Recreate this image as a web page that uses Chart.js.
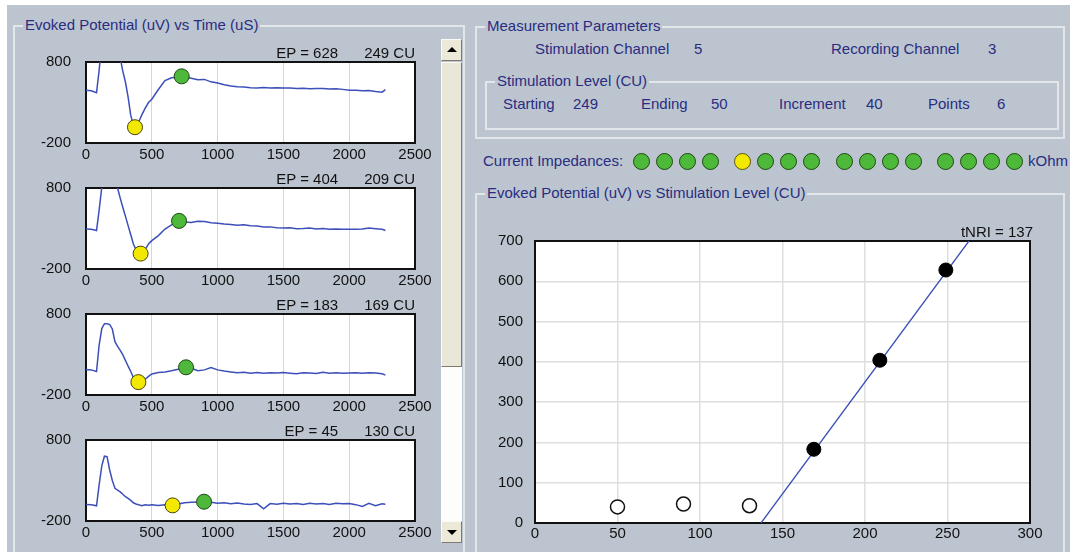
<!DOCTYPE html>
<html lang="en">
<head>
<meta charset="UTF-8" />
<title>Evoked Potential</title>
<script src="https://cdn.jsdelivr.net/npm/chart.js"></script>
<style>
  body {
    margin: 0;
    width: 1070px;
    height: 552px;
    overflow: hidden;
    background: #fff;
    position: relative;
    font-family: 'Liberation Sans', Arial, sans-serif;
    font-size: 15px;
    color: #2a2c82;
  }
  #panel { position: absolute; left: 7px; top: 5px; width: 1063px; height: 547px; background: #bcc5cf; }
  .group { position: absolute; border: 2px solid #e3e6e9; }
  .group > .cap {
    position: absolute; top: -11px; left: 8px; padding: 0 2px;
    background: #bcc5cf; line-height: 18px; white-space: nowrap;
  }
  .txt { position: absolute; line-height: 18px; white-space: nowrap; }
  .ep { position: absolute; line-height: 18px; white-space: nowrap; color: #111; }
  .dot { position: absolute; width: 15px; height: 15px; border-radius: 50%; border: 1px solid #1d4a12; background: #4db83a; }
  .dot.y { background: #f2e800; border-color: #5a5410; }
  .sb { position: absolute; left: 441px; width: 19px; background: #ece9d8;
        border: 1px solid; border-color: #fbfbf6 #7d7b70 #7d7b70 #fbfbf6; }
  .arrow { position: absolute; left: 5px; width: 0; height: 0;
           border-left: 5px solid transparent; border-right: 5px solid transparent; }
  canvas { position: absolute; }
</style>
</head>
<body>
<div id="panel"></div>

<div class="group" style="left:13px; top:25px; width:448px; height:560px;">
  <span class="cap">Evoked Potential (uV) vs Time (uS)</span>
</div>

<div class="group" style="left:475px; top:26px; width:586px; height:109px;">
  <span class="cap">Measurement Parameters</span>
</div>
<div class="group" style="left:485px; top:81px; width:570px; height:45px;">
  <span class="cap">Stimulation Level (CU)</span>
</div>
<div class="txt" style="left:535px; top:40px;">Stimulation Channel</div>
<div class="txt" style="left:694px; top:40px;">5</div>
<div class="txt" style="left:831px; top:40px;">Recording Channel</div>
<div class="txt" style="left:988px; top:40px;">3</div>
<div class="txt" style="left:503px; top:95px;">Starting</div>
<div class="txt" style="left:573px; top:95px;">249</div>
<div class="txt" style="left:641px; top:95px;">Ending</div>
<div class="txt" style="left:711px; top:95px;">50</div>
<div class="txt" style="left:779px; top:95px;">Increment</div>
<div class="txt" style="left:866px; top:95px;">40</div>
<div class="txt" style="left:928px; top:95px;">Points</div>
<div class="txt" style="left:997px; top:95px;">6</div>

<div class="txt" style="left:483px; top:152px;">Current Impedances:</div>
<div id="dots"></div>
<div class="txt" style="left:1028px; top:152px;">kOhm</div>

<div class="group" style="left:475px; top:193px; width:586px; height:400px;">
  <span class="cap">Evoked Potential (uV) vs Stimulation Level (CU)</span>
</div>

<!-- scrollbar -->
<div class="sb" style="top:39px; height:20px;"><div class="arrow" style="top:7px; border-bottom:5px solid #000;"></div></div>
<div class="sb" style="top:62px; height:303px; background:#e9e7d8;"></div>
<div style="position:absolute; left:441px; top:367px; width:21px; height:154px; background:#fdfdfb;"></div>
<div class="sb" style="top:521px; height:20px;"><div class="arrow" style="top:8px; border-top:5px solid #000;"></div></div>

<canvas id="trace0" width="420" height="115" style="left:20px; top:52px;"></canvas>
<canvas id="trace1" width="420" height="115" style="left:20px; top:178px;"></canvas>
<canvas id="trace2" width="420" height="115" style="left:20px; top:304px;"></canvas>
<canvas id="trace3" width="420" height="115" style="left:20px; top:430px;"></canvas>
<div id="epText"></div>

<canvas id="growth" width="580" height="325" style="left:480px; top:225px;"></canvas>
<div class="ep" style="left:900px; top:223px; width:133px; text-align:right;">tNRI = 137</div>

<script>
// time axis (uS) shared by the four traces
const timeUs = [0, 40, 80, 100, 120, 140, 160, 180, 200, 220, 240, 260, 280, 300, 320, 340, 360, 380, 400,
  425, 450, 475, 500, 550, 600, 650, 700, 750, 800, 850, 900, 950, 1000, 1050, 1100, 1150, 1200, 1250,
  1300, 1350, 1400, 1450, 1500, 1550, 1600, 1650, 1700, 1750, 1800, 1850, 1900, 1950, 2000, 2050, 2100,
  2150, 2200, 2250, 2275];

// evoked potential traces (uV)
const ep249 = [450, 445, 420, 700, 1050, 1300, 1450, 1500, 1450, 1300, 1100, 850, 685, 550, 365, 140, 25, -5, 60,
  150, 230, 300, 340, 460, 570, 605, 612, 618, 600, 580, 585, 555, 540, 520, 505, 495, 490, 483,
  480, 485, 478, 482, 480, 478, 472, 476, 470, 474, 472, 466, 470, 462, 452, 450, 445,
  448, 436, 428, 458];
const ep209 = [294, 290, 275, 530, 810, 1100, 1300, 1350, 1250, 1050, 800, 675, 560, 450, 335, 222, 109, 40, 0,
  -10, 40, 110, 150, 212, 293, 345, 390, 380, 375, 390, 385, 370, 365, 355, 350, 340, 345, 335,
  330, 318, 320, 308, 305, 310, 298, 300, 305, 295, 300, 292, 294, 290, 290, 292, 295,
  306, 298, 290, 275];
const ep169 = [116, 110, 90, 420, 620, 680, 680, 670, 615, 458, 400, 350, 295, 226, 156, 90, 19, -30, -42,
  -30, -5, 30, 60, 78, 85, 100, 118, 140, 130, 100, 110, 140, 110, 95, 85, 75, 80, 70,
  78, 68, 75, 72, 78, 70, 62, 75, 72, 66, 80, 68, 74, 70, 72, 75, 70,
  76, 72, 62, 46];
const ep130 = [4, 0, -12, 250, 480, 600, 595, 430, 300, 204, 180, 160, 130, 100, 80, 55, 25, 10, 0,
  -10, 0, -5, 2, -8, 0, -12, 10, 25, 30, 35, 38, 30, 20, 25, 12, 22, 10, 5,
  15, -50, 15, 8, 20, 10, 15, 5, 18, 10, 15, 5, 18, 12, 15, 2, -20,
  18, -10, 12, 8];

// trough (yellow) and peak (green) markers
const troughTimes = [372, 415, 398, 658];
const troughValues = [-5, -10, -41, -7];
const peakTimes = [727, 707, 760, 897];
const peakValues = [623, 394, 142, 38];

const epLabels = ['EP = 628', 'EP = 404', 'EP = 183', 'EP = 45'];
const cuLabels = ['249 CU', '209 CU', '169 CU', '130 CU'];
const timeTicks = [0, 500, 1000, 1500, 2000, 2500];
const voltTicks = [-200, 800];

// growth function
const stimOpen = [50, 90, 130];
const epOpen = [40, 47, 43];
const stimUsed = [169, 209, 249];
const epUsed = [183, 404, 628];
const fitStim = [137, 263];
const fitEp = [0, 700];

Chart.defaults.font.family = "'Liberation Sans', Arial, sans-serif";
Chart.defaults.font.size = 15;
Chart.defaults.color = '#111';

const plain = v => String(v);
const noTick = 'rgba(0,0,0,0)';

const plotFrame = {
  id: 'plotFrame',
  beforeDraw(chart) {
    const a = chart.chartArea, c = chart.ctx;
    c.save();
    c.fillStyle = '#fff';
    c.fillRect(a.left, a.top, a.width, a.height);
    c.restore();
  },
  beforeDatasetsDraw(chart) {
    const a = chart.chartArea, c = chart.ctx;
    c.save();
    c.strokeStyle = '#111';
    c.lineWidth = 2;
    c.strokeRect(a.left, a.top, a.width, a.height);
    c.restore();
  }
};

const traces = [ep249, ep209, ep169, ep130];
const plotTops = [62, 188, 314, 440];

traces.forEach((vals, i) => {
  new Chart(document.getElementById('trace' + i), {
    type: 'line',
    data: {
      datasets: [
        {
          data: [{ x: troughTimes[i], y: troughValues[i] }],
          showLine: false, pointRadius: 7.5,
          pointBackgroundColor: '#f2e800', pointBorderColor: '#4a4510', pointBorderWidth: 1
        },
        {
          data: [{ x: peakTimes[i], y: peakValues[i] }],
          showLine: false, pointRadius: 7.5,
          pointBackgroundColor: '#4db83a', pointBorderColor: '#1d4a12', pointBorderWidth: 1
        },
        {
          data: vals.map((v, k) => ({ x: timeUs[k], y: v })),
          borderColor: '#3d4fb8', borderWidth: 1.5, pointRadius: 0, tension: 0
        }
      ]
    },
    options: {
      responsive: false,
      animation: false,
      layout: { padding: { top: 10, right: 25, left: 0, bottom: 0 } },
      plugins: { legend: { display: false }, tooltip: { enabled: false } },
      scales: {
        x: {
          type: 'linear', min: 0, max: 2500,
          afterBuildTicks: s => { s.ticks = timeTicks.map(v => ({ value: v })); },
          afterFit: s => { s.height = 24; },
          ticks: { padding: 3, maxRotation: 0, autoSkip: false, callback: plain },
          grid: { color: '#d6d6d6', drawTicks: false },
          border: { color: '#111', width: 2 }
        },
        y: {
          min: -200, max: 800,
          afterBuildTicks: s => { s.ticks = voltTicks.map(v => ({ value: v })); },
          afterFit: s => { s.width = 66; },
          ticks: { padding: 1, callback: plain },
          grid: { drawOnChartArea: false, drawTicks: true, tickLength: 14, tickColor: noTick },
          border: { color: '#111', width: 2 }
        }
      }
    },
    plugins: [plotFrame]
  });

  const lab = document.createElement('div');
  lab.className = 'ep';
  lab.style.left = '200px';
  lab.style.width = '215px';
  lab.style.top = (plotTops[i] - 18) + 'px';
  lab.style.textAlign = 'right';
  lab.innerHTML = epLabels[i] + '<span style="display:inline-block; width:26px"></span>' + cuLabels[i];
  document.getElementById('epText').appendChild(lab);
});

// impedance indicators
const dotGroups = [641, 742, 844, 945];
dotGroups.forEach((gx, g) => {
  for (let k = 0; k < 4; k++) {
    const d = document.createElement('div');
    d.className = 'dot' + (g === 1 && k === 0 ? ' y' : '');
    d.style.left = (gx + k * 23 - 8) + 'px';
    d.style.top = '153px';
    document.getElementById('dots').appendChild(d);
  }
});

new Chart(document.getElementById('growth'), {
  type: 'line',
  data: {
    datasets: [
      {
        data: stimUsed.map((s, k) => ({ x: s, y: epUsed[k] })),
        showLine: false, pointRadius: 7,
        pointBackgroundColor: '#000', pointBorderColor: '#000'
      },
      {
        data: stimOpen.map((s, k) => ({ x: s, y: epOpen[k] })),
        showLine: false, pointRadius: 7,
        pointBackgroundColor: '#fff', pointBorderColor: '#111', pointBorderWidth: 1.5
      },
      {
        data: fitStim.map((s, k) => ({ x: s, y: fitEp[k] })),
        borderColor: '#3d4fb8', borderWidth: 1.3, pointRadius: 0
      }
    ]
  },
  options: {
    responsive: false,
    animation: false,
    layout: { padding: { top: 16, right: 30, left: 0, bottom: 0 } },
    plugins: { legend: { display: false }, tooltip: { enabled: false } },
    scales: {
      x: {
        type: 'linear', min: 0, max: 300,
        ticks: { stepSize: 50, padding: 2, maxRotation: 0, autoSkip: false, callback: plain },
        afterFit: s => { s.height = 27; },
        grid: { color: '#dedede', lineWidth: 1.5, drawTicks: false },
        border: { color: '#111', width: 2 }
      },
      y: {
        min: 0, max: 700,
        ticks: { stepSize: 100, padding: 1, callback: plain },
        afterFit: s => { s.width = 55; },
        grid: { color: '#dedede', lineWidth: 1.5, drawTicks: true, tickLength: 11, tickColor: noTick },
        border: { color: '#111', width: 2 }
      }
    }
  },
  plugins: [plotFrame]
});
</script>
</body>
</html>
